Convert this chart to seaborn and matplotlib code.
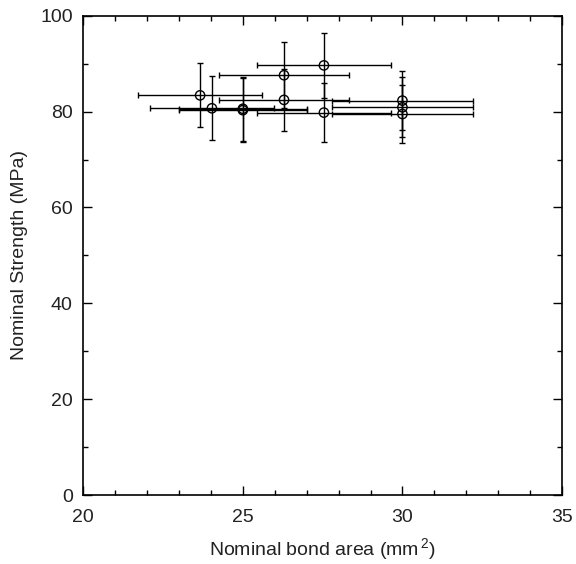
import matplotlib
matplotlib.use("Agg")
import matplotlib.pyplot as plt
import seaborn as sns
import pandas as pd
from matplotlib.ticker import MultipleLocator

bond_area = [23.66, 24.03, 25.0, 25.0, 26.29, 26.29, 27.54, 27.54, 30.0, 30.0, 30.0]
strength = [83.4, 80.7, 80.6, 80.3, 87.6, 82.45, 89.65, 79.8, 82.3, 80.9, 79.5]
area_err = [1.95, 1.94, 2.0, 2.0, 2.05, 2.05, 2.1, 2.1, 2.2, 2.2, 2.2]
strength_err = [6.7, 6.65, 6.7, 6.7, 6.9, 6.55, 6.85, 6.1, 6.2, 6.25, 6.1]

df = pd.DataFrame({"area": bond_area, "strength": strength,
                   "xerr": area_err, "yerr": strength_err})

sns.set_style("ticks")
plt.rcParams["font.family"] = ["Liberation Sans", "DejaVu Sans"]
plt.rcParams["mathtext.default"] = "regular"

fig = plt.figure(figsize=(5.76, 5.64), dpi=100)
ax = fig.add_axes([0.1446, 0.1223, 0.9757 - 0.1446, 0.972 - 0.1223])

ax.errorbar(df["area"], df["strength"], xerr=df["xerr"], yerr=df["yerr"],
            fmt="none", ecolor="black", elinewidth=1.0, capsize=2.5,
            capthick=1.0, zorder=2)
sns.scatterplot(data=df, x="area", y="strength", ax=ax, marker="o", s=45,
                facecolor="none", edgecolor="black", linewidth=1.0, zorder=3)

ax.set_xlim(20, 35)
ax.set_ylim(0, 100)
ax.xaxis.set_major_locator(MultipleLocator(5))
ax.xaxis.set_minor_locator(MultipleLocator(1))
ax.yaxis.set_major_locator(MultipleLocator(20))
ax.yaxis.set_minor_locator(MultipleLocator(10))
ax.tick_params(which="both", direction="in", top=True, right=True,
               colors="black", labelsize=14, labelcolor="#222222")
ax.tick_params(which="major", length=6.5, width=1)
ax.tick_params(which="minor", length=3.6, width=1)
ax.tick_params(axis="x", which="major", pad=10)
ax.tick_params(axis="y", which="major", pad=7.5)
for s in ax.spines.values():
    s.set_color("black")
    s.set_linewidth(1.2)

ax.set_xlabel(r"Nominal bond area (mm$^{\,2}$)", fontsize=14, color="#222222",
              labelpad=7)
ax.set_ylabel("Nominal Strength (MPa)", fontsize=14, color="#222222",
              labelpad=9)

fig.savefig("out.png", dpi=100)
